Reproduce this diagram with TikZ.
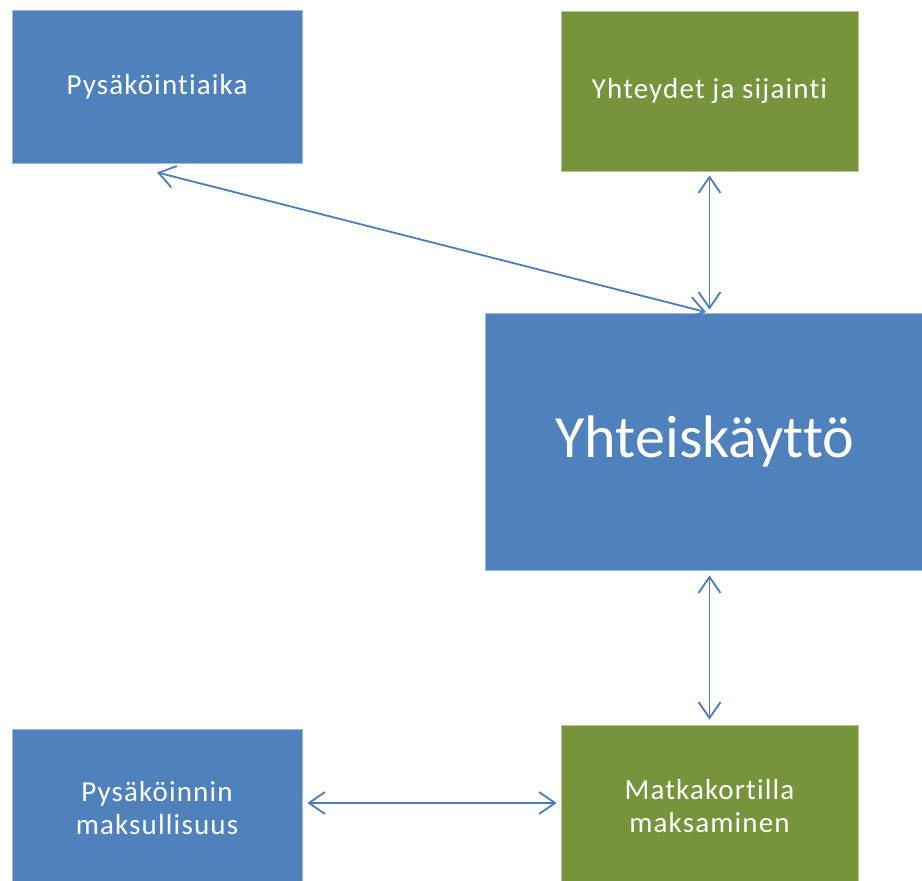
\documentclass[tikz,border=0pt]{standalone}
\usepackage{fontspec}
\setmainfont[Ligatures=NoCommon]{Carlito}
\newfontfamily\labelfont[LetterSpace=4,Ligatures=NoCommon]{Carlito}
\usetikzlibrary{arrows.meta}
\definecolor{boxblue}{HTML}{4F81BD}
\definecolor{boxgreen}{HTML}{77933C}
\definecolor{linkblue}{HTML}{4A7EBB}
\tikzset{
  box/.style={rectangle, fill=#1, draw=#1!55!white, line width=0.8pt, text=white,
    align=center, inner sep=0pt, font=\labelfont\fontsize{29}{33}\selectfont},
  link/.style={draw=linkblue, line width=1.8pt,
    {Straight Barb[length=16pt,width=22pt]}-{Straight Barb[length=16pt,width=22pt]}}
}

\begin{document}
\begin{tikzpicture}[x=1pt,y=-1pt]
\useasboundingbox (0,0) rectangle (922,881);
\path[clip] (0,0) rectangle (922,881);

\node[box=boxblue, minimum width=290pt, minimum height=153pt] (aika) at (157,86.5) {Pysäköintiaika};
\node[box=boxgreen, minimum width=297pt, minimum height=160pt] (yhteydet) at (709.5,91) {Yhteydet ja sijainti};
\node[box=boxblue, minimum width=440pt, minimum height=257pt, font=\normalfont\fontsize{60}{66}\selectfont] (yhteis) at (705,441.5) {Yhteiskäyttö};
\node[box=boxblue, minimum width=290pt, minimum height=158pt] (maksu) at (157,808) {Pysäköinnin\\maksullisuus};
\node[box=boxgreen, minimum width=297pt, minimum height=162pt] (matka) at (709.5,806) {Matkakortilla\\maksaminen};

\draw[link, shorten >=2pt] ([yshift=-9pt]aika.south) -- ([xshift=3pt]yhteis.north);
\draw[link, shorten <=4pt, shorten >=3pt] (yhteydet.south) -- (yhteydet.south |- yhteis.north);
\draw[link, shorten <=5pt, shorten >=5pt] (matka.north |- yhteis.south) -- (matka.north);
\draw[link, shorten <=5pt, shorten >=4pt] ([yshift=5pt]maksu.east) -- ([yshift=5pt]maksu.east -| matka.west);
\end{tikzpicture}
\end{document}
